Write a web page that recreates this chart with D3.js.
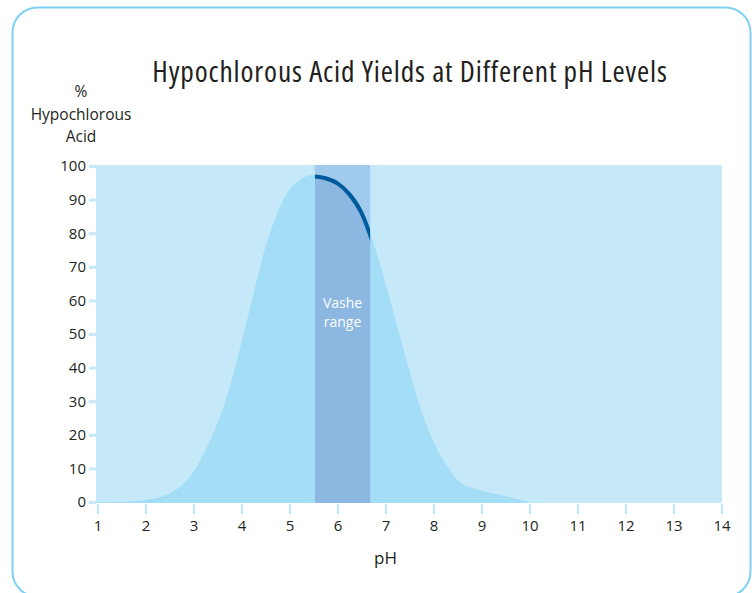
<!DOCTYPE html>
<html>
<head>
<meta charset="utf-8">
<script src="https://cdn.jsdelivr.net/npm/d3@7"></script>
<style>
  body { margin: 0; background: #fff; }
  text { font-family: "Open Sans", sans-serif; fill: #231f20; }
</style>
</head>
<body>
<script>
'use strict';

// readings
const phValues = [1, 1.5, 2, 2.5, 3, 3.25, 3.5, 3.75, 4, 4.25, 4.5, 4.75, 5, 5.25, 5.5,
  5.75, 6, 6.25, 6.5, 6.75, 7, 7.25, 7.5, 7.75, 8, 8.25, 8.5, 9, 9.5, 10];
const hoclPercent = [0, 0.1, 0.6, 2.5, 9, 15.5, 23.5, 34, 47.5, 62, 76, 86, 93, 96.2, 97.3,
  96.8, 95.3, 92, 86.5, 77, 65, 52, 39, 27, 18, 11.5, 6.5, 3.4, 1.8, 0];
const vasheRange = [5.53, 6.68];
const xTicks = [1, 2, 3, 4, 5, 6, 7, 8, 9, 10, 11, 12, 13, 14];
const yTicks = [0, 10, 20, 30, 40, 50, 60, 70, 80, 90, 100];

const svg = d3.select('body')
  .append('svg')
  .attr('width', 756)
  .attr('height', 593);

// rounded frame
svg.append('rect')
  .attr('x', 12.5)
  .attr('y', 7.5)
  .attr('width', 738)
  .attr('height', 589)
  .attr('rx', 25)
  .attr('fill', 'none')
  .attr('stroke', '#7fd1f3')
  .attr('stroke-width', 2);

const x = d3.scaleLinear().domain([1, 14]).range([97.5, 721.5]);
const y = d3.scaleLinear().domain([0, 100]).range([502, 166]);

const data = phValues.map((p, i) => ({ ph: p, v: hoclPercent[i] }));

// plot background
svg.append('rect')
  .attr('x', 96)
  .attr('y', y(100) - 1)
  .attr('width', 626)
  .attr('height', y(0) - y(100) + 2)
  .attr('fill', '#c6e9f9');

// band, lighter part above the curve
svg.append('rect')
  .attr('x', x(vasheRange[0]))
  .attr('y', y(100) - 1)
  .attr('width', x(vasheRange[1]) - x(vasheRange[0]))
  .attr('height', y(0) - y(100) + 2)
  .attr('fill', '#a0cbed');

const area = d3.area()
  .x(d => x(d.ph))
  .y0(y(0) + 1)
  .y1(d => y(d.v))
  .curve(d3.curveMonotoneX);

const line = d3.line()
  .x(d => x(d.ph))
  .y(d => y(d.v))
  .curve(d3.curveMonotoneX);

svg.append('path')
  .datum(data)
  .attr('d', area)
  .attr('fill', '#a4ddf6');

svg.append('clipPath')
  .attr('id', 'band')
  .append('rect')
  .attr('x', x(vasheRange[0]))
  .attr('y', 0)
  .attr('width', x(vasheRange[1]) - x(vasheRange[0]))
  .attr('height', 593);

svg.append('path')
  .datum(data)
  .attr('d', area)
  .attr('clip-path', 'url(#band)')
  .attr('fill', '#8bb7e1');

svg.append('path')
  .datum(data)
  .attr('d', line)
  .attr('clip-path', 'url(#band)')
  .attr('fill', 'none')
  .attr('stroke', '#005b9e')
  .attr('stroke-width', 4)
  .attr('transform', 'translate(0,1.5)');

// band label
const mid = (x(vasheRange[0]) + x(vasheRange[1])) / 2;
['Vashe', 'range'].forEach((t, i) => {
  svg.append('text')
    .attr('x', mid)
    .attr('y', 307.5 + i * 19)
    .attr('text-anchor', 'middle')
    .attr('font-size', 14)
    .style('fill', '#ffffff')
    .text(t);
});

// axes
const yAxis = svg.append('g')
  .attr('transform', 'translate(96,0)')
  .call(d3.axisLeft(y).tickValues(yTicks).tickSize(7).tickPadding(3));
const xAxis = svg.append('g')
  .attr('transform', 'translate(0,504)')
  .call(d3.axisBottom(x).tickValues(xTicks).tickSize(10).tickPadding(6));

[yAxis, xAxis].forEach(g => {
  g.select('.domain').remove();
  g.selectAll('.tick line').attr('stroke', '#c6e9f9').attr('stroke-width', 3);
  g.selectAll('.tick text')
    .attr('font-size', 15)
    .style('font-family', '"Open Sans", sans-serif')
    .style('fill', '#231f20');
});
xAxis.selectAll('.tick line').attr('stroke-width', 2.5);

// labels
svg.append('text')
  .attr('x', 410)
  .attr('y', 82)
  .attr('text-anchor', 'middle')
  .attr('font-size', 29.5)
  .attr('font-weight', 500)
  .attr('letter-spacing', 0.85)
  .style('font-stretch', 'condensed')
  .text('Hypochlorous Acid Yields at Different pH Levels');

['%', 'Hypochlorous', 'Acid'].forEach((t, i) => {
  svg.append('text')
    .attr('x', 81)
    .attr('y', 97 + i * 22.5)
    .attr('text-anchor', 'middle')
    .attr('font-size', 15.5)
    .text(t);
});

svg.append('text')
  .attr('x', 385.5)
  .attr('y', 564)
  .attr('text-anchor', 'middle')
  .attr('font-size', 17)
  .text('pH');
</script>
</body>
</html>
